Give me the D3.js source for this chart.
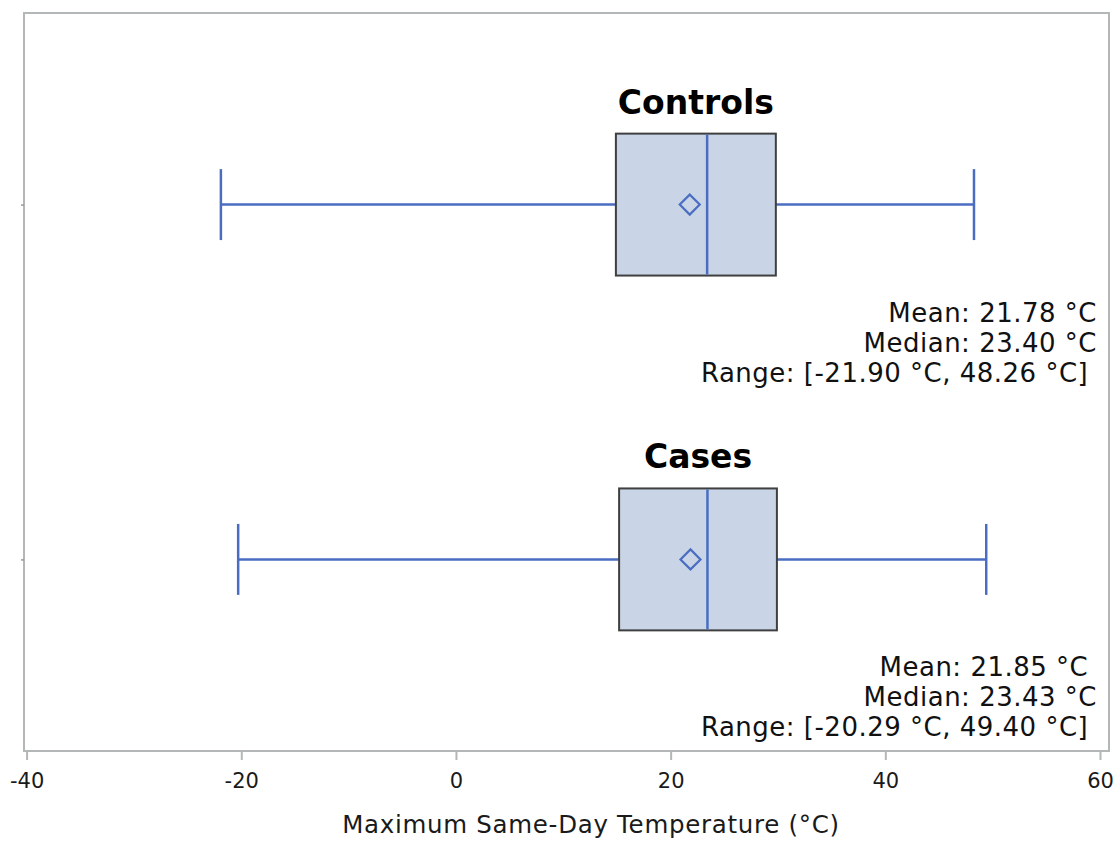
<!DOCTYPE html>
<html>
<head>
<meta charset="utf-8">
<script src="https://cdn.jsdelivr.net/npm/d3@7"></script>
<style>
  body { margin: 0; background: #fff; }
  svg { display: block; font-family: "DejaVu Sans", Verdana, sans-serif; }
</style>
</head>
<body>
<script>
// box plot data
const groups = ["Controls", "Cases"];
const mins = [-21.90, -20.29];
const q1s = [14.9, 15.2];
const medians = [23.40, 23.43];
const q3s = [29.8, 29.9];
const maxs = [48.26, 49.40];
const means = [21.78, 21.85];
const xTicks = [-40, -20, 0, 20, 40, 60];

const statLines = [
  ["Mean: 21.78 °C", "Median: 23.40 °C", "Range: [-21.90 °C, 48.26 °C]\u00a0"],
  ["Mean: 21.85 °C\u00a0", "Median: 23.43 °C", "Range: [-20.29 °C, 49.40 °C]\u00a0"]
];

const width = 1116, height = 842;
const frame = { left: 24, right: 1109, top: 13, bottom: 751 };
const blue = "#4a6dc2";

const svg = d3.select("body").append("svg")
  .attr("width", width)
  .attr("height", height);

const x = d3.scaleLinear()
  .domain([-40, 60])
  .range([frame.left + 2.6, frame.right - 9]);

const y = d3.scalePoint()
  .domain(groups)
  .range([frame.top, frame.bottom])
  .padding(0.54);

const step = y.step();
const boxH = step * 0.4;
const capH = step * 0.2;

// frame
svg.append("rect")
  .attr("x", frame.left)
  .attr("y", frame.top)
  .attr("width", frame.right - frame.left)
  .attr("height", frame.bottom - frame.top)
  .attr("fill", "none")
  .attr("stroke", "#b3b7b7")
  .attr("stroke-width", 2);

// x axis
const xAxis = svg.append("g")
  .attr("transform", `translate(0,${frame.bottom})`)
  .call(d3.axisBottom(x).tickValues(xTicks).tickSize(9).tickPadding(13).tickFormat(d => String(d)));
xAxis.select(".domain").remove();
xAxis.selectAll(".tick line").attr("stroke", "#b3b7b7").attr("stroke-width", 2);
xAxis.selectAll(".tick text")
  .attr("fill", "#1a1a1a")
  .style("font-family", "'DejaVu Sans', sans-serif")
  .style("font-size", "21px");

// y axis: tiny ticks only
const yAxis = svg.append("g")
  .attr("transform", `translate(${frame.left},0)`)
  .call(d3.axisLeft(y).tickSize(3).tickFormat(""));
yAxis.select(".domain").remove();
yAxis.selectAll(".tick line").attr("stroke", "#999").attr("stroke-width", 1.5);

svg.append("text")
  .attr("x", 591)
  .attr("y", 833)
  .attr("text-anchor", "middle")
  .attr("fill", "#1a1a1a")
  .style("font-size", "24.5px")
  .style("letter-spacing", "0.7px")
  .text("Maximum Same-Day Temperature (°C)");

const g = svg.selectAll(".grp")
  .data(groups.map((name, i) => ({
    name, min: mins[i], q1: q1s[i], median: medians[i], q3: q3s[i], max: maxs[i], mean: means[i], lines: statLines[i]
  })))
  .join("g")
  .attr("class", "grp")
  .attr("transform", d => `translate(0,${y(d.name)})`);

// whiskers
g.append("line")
  .attr("x1", d => x(d.min)).attr("x2", d => x(d.q1))
  .attr("stroke", blue).attr("stroke-width", 2.5);
g.append("line")
  .attr("x1", d => x(d.q3)).attr("x2", d => x(d.max))
  .attr("stroke", blue).attr("stroke-width", 2.5);
g.append("line")
  .attr("x1", d => x(d.min)).attr("x2", d => x(d.min))
  .attr("y1", -capH / 2).attr("y2", capH / 2)
  .attr("stroke", blue).attr("stroke-width", 2.5);
g.append("line")
  .attr("x1", d => x(d.max)).attr("x2", d => x(d.max))
  .attr("y1", -capH / 2).attr("y2", capH / 2)
  .attr("stroke", blue).attr("stroke-width", 2.5);

// box
g.append("rect")
  .attr("x", d => x(d.q1))
  .attr("y", -boxH / 2)
  .attr("width", d => x(d.q3) - x(d.q1))
  .attr("height", boxH)
  .attr("fill", "#c9d5e6")
  .attr("stroke", "#3f3f3f")
  .attr("stroke-width", 2);

// median
g.append("line")
  .attr("x1", d => x(d.median)).attr("x2", d => x(d.median))
  .attr("y1", -boxH / 2 + 1).attr("y2", boxH / 2 - 1)
  .attr("stroke", blue).attr("stroke-width", 2.5);

// mean diamond
g.append("path")
  .attr("d", d3.symbol(d3.symbolSquare, 200)())
  .attr("transform", d => `translate(${x(d.mean)},0) rotate(45)`)
  .attr("fill", "none")
  .attr("stroke", blue)
  .attr("stroke-width", 2.2);

// group titles
g.append("text")
  .attr("x", d => (x(d.q1) + x(d.q3)) / 2)
  .attr("y", -boxH / 2 - 20)
  .attr("text-anchor", "middle")
  .attr("fill", "#000")
  .style("font-size", "33px")
  .style("font-weight", "bold")
  .text(d => d.name);

// stats text
g.append("text")
  .attr("text-anchor", "end")
  .attr("fill", "#111")
  .style("font-size", "26px")
  .style("letter-spacing", "0.5px")
  .style("white-space", "pre")
  .selectAll("tspan")
  .data(d => d.lines)
  .join("tspan")
  .attr("x", 1097)
  .attr("y", (d, i) => 117 + i * 30)
  .text(d => d);
</script>
</body>
</html>
